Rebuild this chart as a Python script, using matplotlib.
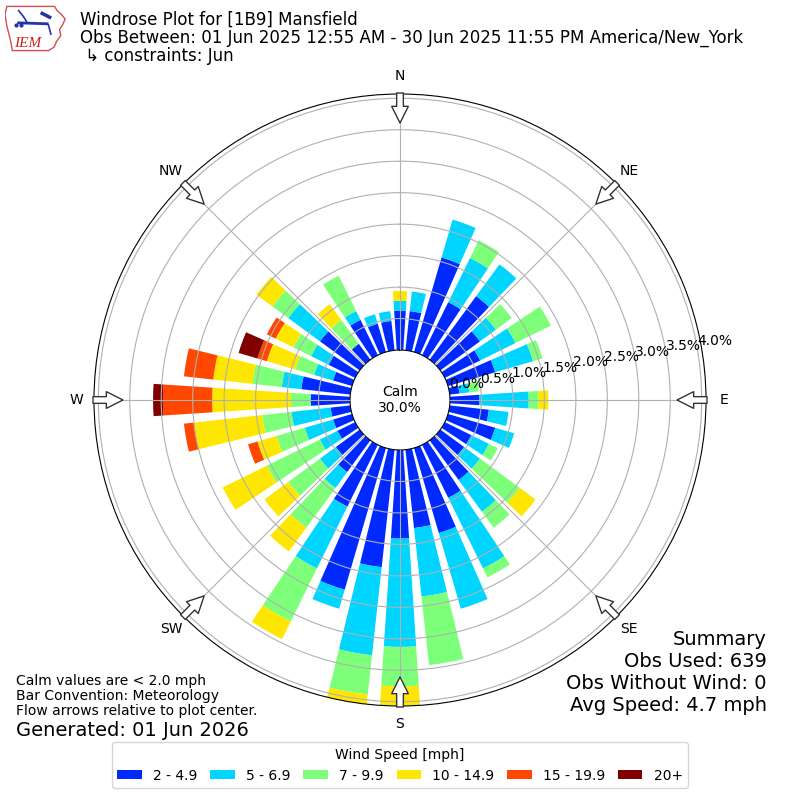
import numpy as np
import matplotlib
matplotlib.use("Agg")
import matplotlib.pyplot as plt
from matplotlib.patches import Patch, Polygon

# wind directions (deg, meteorological) and speed bins
directions = np.arange(0, 360, 10)
speed_bins = ["2 - 4.9", "5 - 6.9", "7 - 9.9", "10 - 14.9", "15 - 19.9", "20+"]

# percent of all observations, per direction (0, 10, ... 350)
pct_2_5 = [0.626, 0.626, 1.565, 0.939, 1.252, 0.782, 0.626, 0.782, 0.156, 0.469, 0.626, 0.782,
           0.469, 0.469, 0.782, 0.939, 1.408, 1.252, 1.408, 1.878, 2.347, 1.095, 0.626, 0.469,
           0.313, 0.313, 0.313, 0.626, 0.782, 0.313, 0.469, 0.782, 0.313, 0.626, 0.469, 0.469]
pct_5_7 = [0.156, 0.313, 0.626, 0.782, 0.626, 0.313, 0.626, 0.626, 0.156, 0.782, 0.313, 0.313,
           0.313, 0.313, 0.626, 1.252, 1.252, 1.095, 1.721, 1.408, 0.313, 1.095, 0.313, 0.313,
           0.313, 0.469, 0.626, 0.0, 0.313, 0.313, 0.313, 0.626, 0.0, 0.156, 0.156, 0.156]
pct_7_10 = [0.0, 0.0, 0.0, 0.313, 0.0, 0.313, 0.626, 0.156, 0.156, 0.156, 0.0, 0.0,
            0.156, 0.782, 0.313, 0.156, 0.0, 1.095, 0.626, 0.626, 0.0, 0.939, 0.782, 0.626,
            0.939, 0.469, 0.469, 0.313, 0.469, 0.313, 0.313, 0.313, 0.469, 0.626, 0.0, 0.0]
pct_10_15 = [0.156, 0.0, 0.0, 0.0, 0.0, 0.0, 0.0, 0.0, 0.0, 0.156, 0.0, 0.0,
             0.0, 0.313, 0.0, 0.0, 0.0, 0.0, 0.313, 0.156, 0.0, 0.313, 0.469, 0.469,
             0.782, 0.313, 1.095, 1.252, 0.626, 0.469, 0.313, 0.313, 0.313, 0.0, 0.0, 0.0]
pct_15_20 = [0.0, 0.0, 0.0, 0.0, 0.0, 0.0, 0.0, 0.0, 0.0, 0.0, 0.0, 0.0,
             0.0, 0.0, 0.0, 0.0, 0.0, 0.0, 0.0, 0.0, 0.0, 0.0, 0.0, 0.0,
             0.0, 0.156, 0.156, 0.782, 0.469, 0.156, 0.156, 0.0, 0.0, 0.0, 0.0, 0.0]
pct_20_up = [0.0, 0.0, 0.0, 0.0, 0.0, 0.0, 0.0, 0.0, 0.0, 0.0, 0.0, 0.0,
             0.0, 0.0, 0.0, 0.0, 0.0, 0.0, 0.0, 0.0, 0.0, 0.0, 0.0, 0.0,
             0.0, 0.0, 0.0, 0.156, 0.0, 0.313, 0.0, 0.0, 0.0, 0.0, 0.0, 0.0]
calm_pct = 30.0

series = [pct_2_5, pct_5_7, pct_7_10, pct_10_15, pct_15_20, pct_20_up]
colors = plt.cm.jet(np.arange(1, 7) / 6.0)

fig = plt.figure(figsize=(8, 8), dpi=100)

R_PX = 306.0   # plot radius in pixels
HOLE_PX = 50.0  # calm circle radius in pixels
ax = fig.add_axes([(400 - R_PX) / 800, (400 - R_PX) / 800, 2 * R_PX / 800, 2 * R_PX / 800],
                  projection="polar")
ax.set_theta_zero_location("N")
ax.set_theta_direction(-1)

theta = np.deg2rad(directions)
width = np.deg2rad(7.5)
bottom = np.zeros(len(directions))
for vals, col in zip(series, colors):
    vals = np.asarray(vals)
    ax.bar(theta, vals, width=width, bottom=bottom, color=col, linewidth=0, zorder=2)
    bottom += vals

rmax = bottom.max()
rorigin = -HOLE_PX * rmax / (R_PX - HOLE_PX)
ax.set_ylim(0, rmax)
ax.set_rorigin(rorigin)


def px2r(px):
    return rorigin + px / R_PX * (rmax - rorigin)


ax.set_yticks(np.arange(0.5, 4.01, 0.5))
ax.set_yticklabels([])
ax.set_xticks(np.deg2rad(np.arange(0, 360, 45)))
ax.set_xticklabels([])
ax.set_axisbelow(False)
ax.grid(True, color="#b0b0b0", lw=0.8)

for v in np.arange(0, 4.01, 0.5):
    ax.text(np.deg2rad(80), v, f"{v:.1f}%", ha="left", va="bottom", fontsize=10, zorder=5)

compass = ["N", "NE", "E", "SE", "S", "SW", "W", "NW"]
for i, lab in enumerate(compass):
    th = np.deg2rad(45 * i)
    ax.text(th, px2r(324), lab, ha="center", va="center", fontsize=10)
    ax.annotate("", xy=(th, px2r(277)), xytext=(th, px2r(307)),
                arrowprops=dict(arrowstyle="simple,head_length=1.2,head_width=1.2,tail_width=0.48",
                                fc="white", ec="#333333", lw=1, shrinkA=0, shrinkB=0,
                                mutation_scale=10),
                annotation_clip=False, zorder=6)

fig.text(0.5, 0.5, f"Calm\n{calm_pct:.1f}%", ha="center", va="center", fontsize=10)

# header
fig.text(80 / 800, 1 - 25 / 800, "Windrose Plot for [1B9] Mansfield", fontsize=12, va="baseline")
fig.text(80 / 800, 1 - 43 / 800,
         "Obs Between: 01 Jun 2025 12:55 AM - 30 Jun 2025 11:55 PM America/New_York",
         fontsize=12, va="baseline")
fig.text(80 / 800, 1 - 61 / 800, " \u21b3 constraints: Jun", fontsize=12, va="baseline")

# logo
lax = fig.add_axes([5 / 800, 1 - 52 / 800, 62 / 800, 47 / 800])
lax.set_xlim(0, 1)
lax.set_ylim(0, 1)
lax.axis("off")
iowa = [(0.03, 0.97), (0.80, 0.97), (0.84, 0.88), (0.91, 0.80), (0.97, 0.70), (0.93, 0.58),
        (0.88, 0.48), (0.90, 0.35), (0.83, 0.22), (0.79, 0.10), (0.70, 0.03), (0.12, 0.03),
        (0.08, 0.30), (0.03, 0.55), (0.0, 0.80)]
lax.add_patch(Polygon(iowa, closed=True, fill=False, ec="#d05050", lw=1.0))
lax.plot([0.22, 0.68], [0.62, 0.60], color="#2233aa", lw=2)
lax.plot([0.22, 0.30, 0.36], [0.88, 0.75, 0.62], color="#2233aa", lw=1.2)
lax.plot([0.60, 0.72], [0.82, 0.74], color="#2233aa", lw=2.5)
lax.plot([0.70, 0.74], [0.58, 0.38], color="#2233aa", lw=1.2)
lax.plot([0.18, 0.26], [0.58, 0.58], "o", color="#2233aa", ms=2)
lax.text(0.15, 0.10, "IEM", fontsize=11, family="Liberation Serif", style="italic",
         color="#cc2222")

# footer notes
fig.text(16 / 800, 1 - 685 / 800, "Calm values are < 2.0 mph", fontsize=10, va="baseline")
fig.text(16 / 800, 1 - 700 / 800, "Bar Convention: Meteorology", fontsize=10, va="baseline")
fig.text(16 / 800, 1 - 715 / 800, "Flow arrows relative to plot center.", fontsize=10,
         va="baseline")
fig.text(16 / 800, 1 - 736 / 800, "Generated: 01 Jun 2026", fontsize=14, va="baseline")

summary = ["Summary", "Obs Used: 639", "Obs Without Wind: 0", "Avg Speed: 4.7 mph"]
for txt, ypx in zip(summary, [645, 667, 689, 711]):
    fig.text(767 / 800, 1 - ypx / 800, txt, fontsize=14, ha="right", va="baseline")

handles = [Patch(facecolor=c, label=l) for c, l in zip(colors, speed_bins)]
fig.legend(handles=handles, loc="lower center", bbox_to_anchor=(0.5, 0.006), ncol=6,
           title="Wind Speed [mph]", fontsize=10, title_fontsize=10, handlelength=1.75,
           handleheight=0.6, columnspacing=0.95)

fig.savefig("out.png", dpi=100)
